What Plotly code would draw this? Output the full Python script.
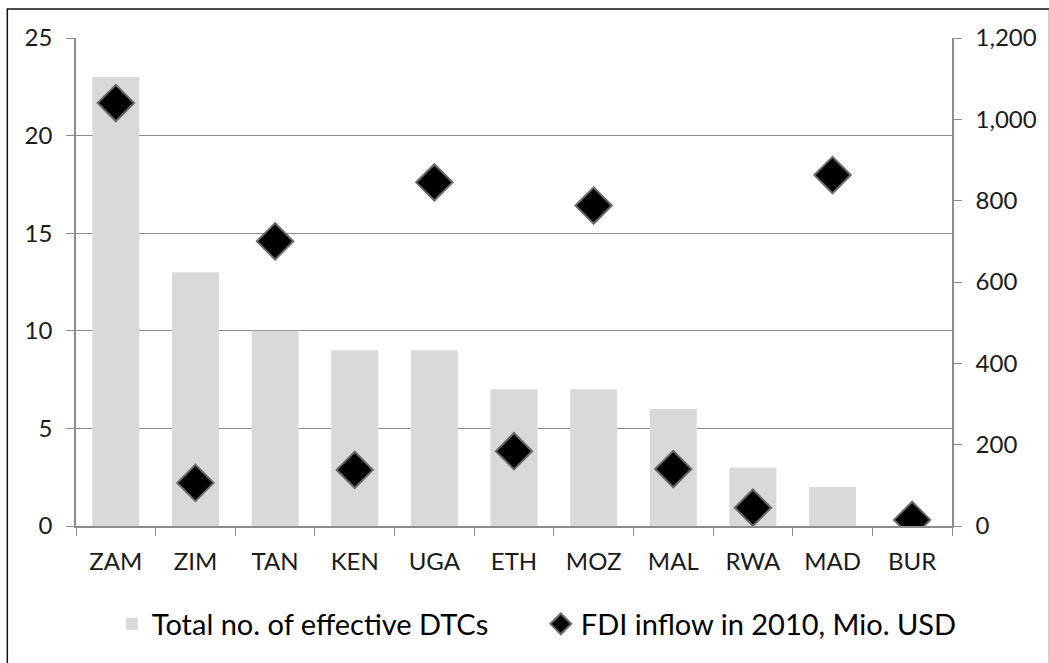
import plotly.graph_objects as go

countries = ["ZAM", "ZIM", "TAN", "KEN", "UGA", "ETH", "MOZ", "MAL", "RWA", "MAD", "BUR"]
dtcs = [23, 13, 10, 9, 9, 7, 7, 6, 3, 2, 0]
fdi = [1040, 106, 700, 138, 845, 184, 788, 140, 45, 863, 15]

L, R, T, B = 76, 93, 38, 137
W, H = 1049, 663
pw, ph = W - L - R, H - T - B

def px_x(x):
    return (x - L) / pw

def px_y(y):
    return (T + ph - y) / ph

fig = go.Figure()
fig.add_trace(go.Bar(
    x=countries, y=dtcs, name="Total no. of effective DTCs",
    marker=dict(color="#d9d9d9", line=dict(width=0)), width=0.59, yaxis="y",
))
fig.add_trace(go.Scatter(
    x=countries, y=fdi, name="FDI inflow in 2010, Mio. USD", mode="markers",
    marker=dict(symbol="diamond", size=28, color="black", line=dict(color="#6a6a6a", width=2)),
    yaxis="y2",
))

axfont = dict(family="Lato, sans-serif", size=24, color="#1a1a1a")
gray = "#8c8c8c"
fig.update_layout(
    width=W, height=H, margin=dict(l=L, r=R, t=T, b=B),
    plot_bgcolor="white", paper_bgcolor="white",
    font=axfont,
    xaxis=dict(range=[-0.5, len(countries) - 0.5], showline=True, linecolor=gray, linewidth=1.5,
               ticks="outside", tickson="boundaries", ticklen=8, tickcolor=gray, showgrid=False,
               tickfont=axfont, ticklabelstandoff=13),
    yaxis=dict(range=[0, 25], dtick=5, showline=True, linecolor=gray, linewidth=1.5,
               ticks="outside", ticklen=8, tickcolor=gray, showgrid=True,
               gridcolor=gray, gridwidth=1, zeroline=False, tickfont=axfont,
               ticklabelstandoff=9),
    yaxis2=dict(range=[0, 1200], dtick=200, overlaying="y", side="right", showline=True,
                linecolor=gray, linewidth=1.5, ticks="outside", ticklen=8,
                tickcolor=gray, showgrid=False, zeroline=False, tickformat=",",
                tickfont=axfont, ticklabelstandoff=9),
    legend=dict(orientation="h", x=px_x(112), xanchor="left", y=px_y(624),
                yanchor="middle", font=dict(family="Lato, sans-serif", size=29, color="#000"),
                traceorder="normal", entrywidth=384, bgcolor="rgba(0,0,0,0)"),
    showlegend=True,
    shapes=[dict(type="rect", xref="paper", yref="paper",
                 x0=px_x(7), x1=px_x(W + 5),
                 y0=px_y(H + 5), y1=px_y(9),
                 line=dict(color="#111111", width=1.5), fillcolor="rgba(0,0,0,0)", layer="below")],
)
fig.write_html("out.html")
